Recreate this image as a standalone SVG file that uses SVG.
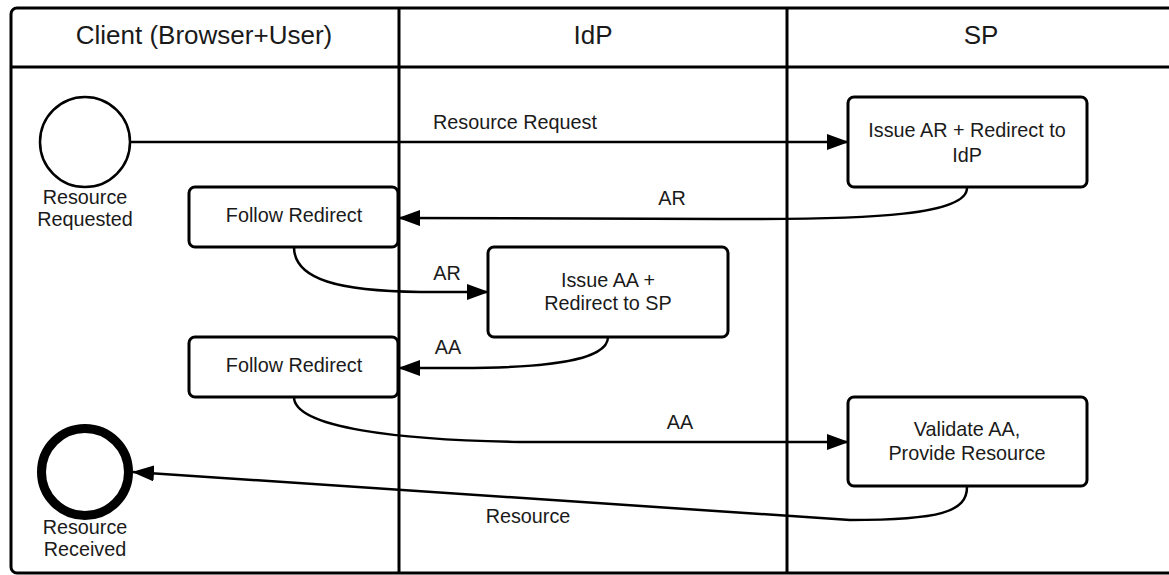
<svg xmlns="http://www.w3.org/2000/svg" width="1169" height="575" viewBox="0 0 1169 575">
<style>
  text { font-family: "Liberation Sans", Arial, sans-serif; fill: #1a1a1a; text-anchor: middle; }
  .hdr { font-size: 26px; }
  .lbl { font-size: 19.8px; }
  .lane { fill: none; stroke: #000; stroke-width: 3; }
  .box { fill: #fff; stroke: #000; stroke-width: 3; }
  .conn { fill: none; stroke: #000; stroke-width: 2.5; marker-end: url(#arrow); }
</style>
<defs>
  <marker id="arrow" markerUnits="userSpaceOnUse" viewBox="0 0 22 16" refX="21" refY="8" markerWidth="22" markerHeight="16" orient="auto">
    <path d="M0,0 L22,8 L0,16 z" fill="#000"/>
  </marker>
</defs>
<rect x="0" y="0" width="1169" height="575" fill="#fff"/>
<g id="pool">
  <rect class="lane" x="11" y="8" width="1170" height="565" rx="6"/>
  <line class="lane" x1="11" y1="67" x2="1169" y2="67"/>
  <line class="lane" x1="399" y1="8" x2="399" y2="573"/>
  <line class="lane" x1="787" y1="8" x2="787" y2="573"/>
  <text class="hdr" x="204" y="44">Client (Browser+User)</text>
  <text class="hdr" x="593" y="44">IdP</text>
  <text class="hdr" x="981" y="44">SP</text>
</g>
<g id="connectors">
  <path class="conn" d="M130,142 L848,142"/>
  <path class="conn" d="M967,188 C967,214 880,220 720,219 L399,218"/>
  <path class="conn" d="M294,247 C294,280 340,291 420,292 L488,292"/>
  <path class="conn" d="M608,337 C608,362 540,368 460,368 L399,368"/>
  <path class="conn" d="M294,397 C294,428 400,440 520,442 L848,442"/>
  <path class="conn" d="M967,487 C967,512 940,520 850,520 L133,472"/>
  <text class="lbl" x="515" y="129">Resource Request</text>
  <text class="lbl" x="672" y="205">AR</text>
  <text class="lbl" x="447" y="280">AR</text>
  <text class="lbl" x="448" y="354">AA</text>
  <text class="lbl" x="680" y="429">AA</text>
  <text class="lbl" x="528" y="523">Resource</text>
</g>
<g id="start">
  <circle cx="85" cy="142" r="45" fill="#fff" stroke="#000" stroke-width="2.5"/>
  <text class="lbl" x="85" y="204">Resource</text>
  <text class="lbl" x="85" y="226">Requested</text>
</g>
<g id="issueAR">
  <rect class="box" x="848" y="97" width="239" height="90" rx="6"/>
  <text class="lbl" x="967" y="137">Issue AR + Redirect to</text>
  <text class="lbl" x="967" y="162">IdP</text>
</g>
<g id="follow1">
  <rect class="box" x="189" y="187" width="209" height="60" rx="6"/>
  <text class="lbl" x="294" y="222">Follow Redirect</text>
</g>
<g id="issueAA">
  <rect class="box" x="488" y="247" width="240" height="90" rx="6"/>
  <text class="lbl" x="608" y="287">Issue AA +</text>
  <text class="lbl" x="608" y="310">Redirect to SP</text>
</g>
<g id="follow2">
  <rect class="box" x="189" y="337" width="209" height="60" rx="6"/>
  <text class="lbl" x="294" y="372">Follow Redirect</text>
</g>
<g id="validate">
  <rect class="box" x="848" y="397" width="239" height="89" rx="6"/>
  <text class="lbl" x="967" y="436">Validate AA,</text>
  <text class="lbl" x="967" y="460">Provide Resource</text>
</g>
<g id="end">
  <circle cx="85" cy="472" r="43.5" fill="#fff" stroke="#000" stroke-width="9"/>
  <text class="lbl" x="85" y="534">Resource</text>
  <text class="lbl" x="85" y="556">Received</text>
</g>
</svg>
